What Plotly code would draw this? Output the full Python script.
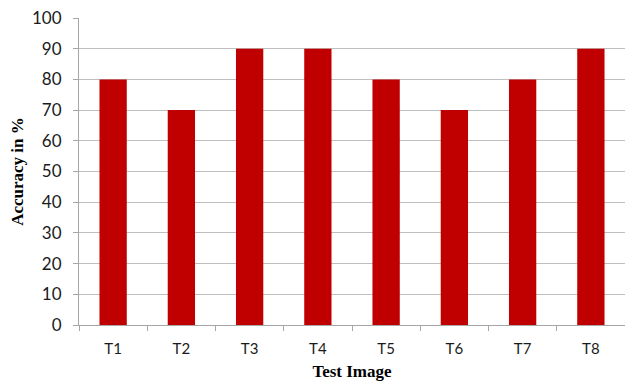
import plotly.graph_objects as go

categories = ["T1", "T2", "T3", "T4", "T5", "T6", "T7", "T8"]
accuracy = [80, 70, 90, 90, 80, 70, 80, 90]
y_ticks = [0, 10, 20, 30, 40, 50, 60, 70, 80, 90, 100]

axis_grey = "#A6A6A6"
label_font = "Lato, Open Sans, sans-serif"
title_font = "Liberation Serif, Times New Roman, serif"

fig = go.Figure(
    go.Bar(
        x=categories,
        y=accuracy,
        marker=dict(color="#C00000", line=dict(width=0)),
    )
)

fig.update_layout(
    width=625,
    height=381,
    margin=dict(l=79, r=0, t=18, b=56),
    paper_bgcolor="white",
    plot_bgcolor="white",
    bargap=0.6,
    showlegend=False,
    font=dict(family=label_font, color="#1a1a1a"),
)

fig.update_xaxes(
    type="category",
    tickson="boundaries",
    ticks="outside",
    ticklen=5,
    tickcolor=axis_grey,
    showline=True,
    linecolor=axis_grey,
    linewidth=1,
    showgrid=False,
    tickfont=dict(size=15),
    ticklabelstandoff=10,
    title=dict(
        text="<b>Test Image</b>",
        font=dict(family=title_font, size=17, color="#000000"),
        standoff=12,
    ),
)

fig.update_yaxes(
    range=[0, 100],
    tickvals=y_ticks,
    ticks="outside",
    ticklen=5,
    tickcolor=axis_grey,
    showline=True,
    linecolor=axis_grey,
    linewidth=1,
    showgrid=True,
    gridcolor="#BFBFBF",
    gridwidth=1,
    zeroline=False,
    tickfont=dict(size=17),
    ticklabelstandoff=8,
    title=dict(
        text="<b>Accuracy in %</b>",
        font=dict(family=title_font, size=17, color="#000000"),
        standoff=4,
    ),
)

fig.write_html("out.html")
